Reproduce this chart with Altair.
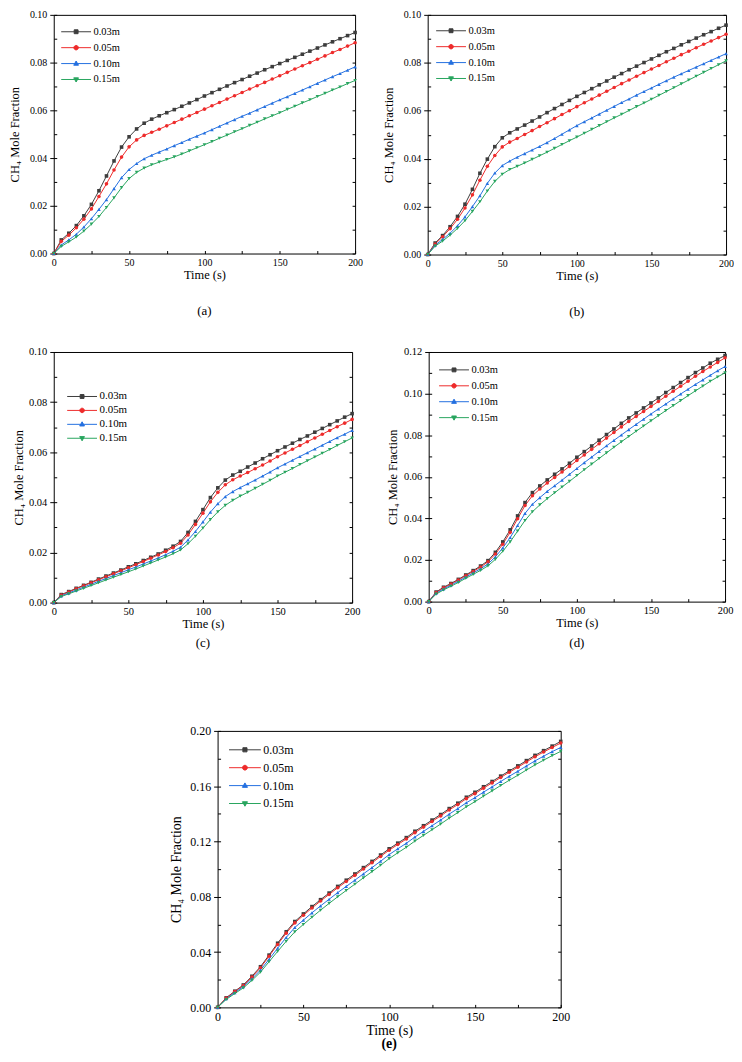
import altair as alt
import pandas as pd

FONT = "Liberation Serif"

TIME = [0, 5, 10, 15, 20, 25, 30, 35, 40, 45, 50, 55, 60, 65, 70, 75, 80, 85, 90, 95, 100,
        105, 110, 115, 120, 125, 130, 135, 140, 145, 150, 155, 160, 165, 170, 175, 180, 185, 190, 195, 200]
SERIES = ["0.03m", "0.05m", "0.10m", "0.15m"]
COLORS = ["#3d3d3d", "#ee2b2b", "#2470e0", "#28a55f"]
X_TICKS = [0, 25, 50, 75, 100, 125, 150, 175, 200]
Y_TICKS_10 = [0.0, 0.01, 0.02, 0.03, 0.04, 0.05, 0.06, 0.07, 0.08, 0.09, 0.10]
Y_TICKS_12 = [0.0, 0.01, 0.02, 0.03, 0.04, 0.05, 0.06, 0.07, 0.08, 0.09, 0.10, 0.11, 0.12]
Y_TICKS_20 = [0.0, 0.02, 0.04, 0.06, 0.08, 0.10, 0.12, 0.14, 0.16, 0.18, 0.20]

# legend symbols: short line with the marker in the middle
LEG_PATHS = [
    "M-1,0H1M-0.13,-0.13H0.13V0.13H-0.13Z",
    "M-1,0H1M0.15,0A0.15,0.15,0,1,1,-0.15,0A0.15,0.15,0,1,1,0.15,0Z",
    "M-1,0H1M0,-0.17L0.16,0.11L-0.16,0.11Z",
    "M-1,0H1M0,0.17L0.16,-0.11L-0.16,-0.11Z",
]

# ---------------- panel (a)
A_003 = [0, .0057, .0085, .0117, .0158, .0206, .0263, .0325, .0388, .0446, .0489,
         .0522, .0546, .0563, .0577, .0590, .0603, .0617, .0631, .0645, .0660,
         .0674, .0688, .0702, .0716, .0729, .0743, .0756, .0770, .0783, .0796,
         .0809, .0822, .0835, .0848, .0861, .0874, .0887, .0900, .0913, .0926]
A_005 = [0, .0051, .0077, .0108, .0144, .0187, .0239, .0292, .0350, .0404, .0447,
         .0476, .0495, .0508, .0521, .0535, .0549, .0563, .0577, .0591, .0605,
         .0619, .0633, .0647, .0661, .0675, .0689, .0703, .0717, .0731, .0745,
         .0759, .0773, .0787, .0800, .0814, .0828, .0842, .0855, .0869, .0883]
A_010 = [0, .0036, .0057, .0081, .0111, .0146, .0185, .0226, .0272, .0318, .0352,
         .0377, .0397, .0412, .0425, .0438, .0452, .0465, .0479, .0492, .0505,
         .0519, .0533, .0547, .0561, .0575, .0588, .0602, .0616, .0630, .0644,
         .0657, .0671, .0685, .0699, .0713, .0727, .0741, .0754, .0768, .0782]
A_015 = [0, .0030, .0049, .0069, .0094, .0123, .0155, .0193, .0233, .0276, .0314,
         .0340, .0358, .0372, .0383, .0394, .0405, .0417, .0430, .0443, .0456,
         .0469, .0483, .0496, .0510, .0523, .0537, .0550, .0564, .0577, .0590,
         .0604, .0617, .0631, .0644, .0658, .0671, .0685, .0698, .0712, .0725]

# ---------------- panel (b)
B_003 = [0, .0048, .0079, .0116, .0159, .0210, .0272, .0339, .0398, .0450, .0487,
         .0508, .0524, .0540, .0557, .0574, .0592, .0609, .0626, .0643, .0660,
         .0676, .0692, .0708, .0724, .0740, .0755, .0771, .0786, .0801, .0816,
         .0831, .0846, .0860, .0875, .0889, .0903, .0917, .0930, .0944, .0957]
B_005 = [0, .0044, .0074, .0108, .0147, .0194, .0249, .0310, .0368, .0413, .0449,
         .0469, .0484, .0501, .0517, .0534, .0550, .0567, .0584, .0600, .0617,
         .0633, .0649, .0665, .0681, .0697, .0713, .0728, .0744, .0759, .0774,
         .0789, .0804, .0819, .0834, .0848, .0863, .0877, .0891, .0905, .0919]
B_010 = [0, .0039, .0063, .0089, .0120, .0157, .0200, .0245, .0297, .0340, .0371,
         .0390, .0406, .0421, .0436, .0451, .0467, .0484, .0502, .0520, .0538,
         .0554, .0570, .0586, .0602, .0618, .0634, .0649, .0665, .0680, .0695,
         .0710, .0725, .0740, .0754, .0768, .0782, .0796, .0810, .0824, .0838]
B_015 = [0, .0035, .0056, .0081, .0109, .0141, .0180, .0220, .0265, .0305, .0335,
         .0355, .0368, .0382, .0397, .0412, .0427, .0443, .0459, .0475, .0490,
         .0506, .0522, .0538, .0554, .0570, .0585, .0601, .0617, .0632, .0648,
         .0664, .0680, .0696, .0712, .0728, .0744, .0760, .0776, .0792, .0808]

# ---------------- panel (c)
C_003 = [0, .0032, .0044, .0057, .0069, .0081, .0094, .0106, .0118, .0130, .0143,
         .0155, .0168, .0181, .0194, .0209, .0225, .0244, .0280, .0324, .0371,
         .0419, .0458, .0489, .0509, .0524, .0541, .0557, .0574, .0590, .0606,
         .0621, .0636, .0651, .0665, .0680, .0695, .0710, .0725, .0740, .0754]
C_005 = [0, .0030, .0042, .0055, .0067, .0079, .0091, .0103, .0115, .0127, .0139,
         .0151, .0164, .0177, .0190, .0204, .0219, .0237, .0270, .0312, .0357,
         .0402, .0440, .0470, .0490, .0505, .0519, .0534, .0549, .0565, .0582,
         .0597, .0612, .0627, .0642, .0657, .0672, .0687, .0702, .0716, .0731]
C_010 = [0, .0027, .0038, .0050, .0062, .0073, .0085, .0096, .0108, .0119, .0131,
         .0142, .0154, .0166, .0178, .0191, .0205, .0221, .0250, .0284, .0322,
         .0361, .0395, .0423, .0443, .0459, .0474, .0489, .0505, .0521, .0538,
         .0553, .0568, .0583, .0598, .0613, .0628, .0643, .0658, .0672, .0687]
C_015 = [0, .0024, .0035, .0046, .0057, .0068, .0079, .0090, .0101, .0112, .0123,
         .0134, .0146, .0158, .0170, .0182, .0195, .0210, .0235, .0265, .0297,
         .0331, .0362, .0388, .0408, .0425, .0440, .0456, .0472, .0488, .0505,
         .0520, .0535, .0551, .0566, .0581, .0596, .0611, .0627, .0642, .0657]

# ---------------- panel (d)
D_003 = [0, .0046, .0069, .0087, .0107, .0128, .0149, .0171, .0197, .0237, .0287,
         .0345, .0412, .0476, .0524, .0556, .0585, .0612, .0638, .0665, .0694,
         .0721, .0748, .0776, .0803, .0830, .0857, .0883, .0907, .0931, .0955,
         .0979, .1005, .1029, .1053, .1077, .1101, .1123, .1146, .1165, .1183]
D_005 = [0, .0044, .0066, .0084, .0104, .0124, .0145, .0166, .0191, .0229, .0276,
         .0333, .0398, .0462, .0509, .0541, .0570, .0597, .0623, .0650, .0678,
         .0705, .0732, .0759, .0786, .0813, .0840, .0866, .0890, .0914, .0938,
         .0962, .0987, .1011, .1035, .1059, .1083, .1106, .1128, .1150, .1172]
D_010 = [0, .0040, .0061, .0079, .0098, .0118, .0138, .0158, .0181, .0215, .0258,
         .0308, .0366, .0424, .0468, .0500, .0530, .0557, .0584, .0612, .0640,
         .0668, .0695, .0722, .0749, .0775, .0801, .0827, .0852, .0877, .0902,
         .0926, .0950, .0974, .0998, .1021, .1044, .1066, .1088, .1110, .1130]
D_015 = [0, .0036, .0056, .0074, .0092, .0112, .0131, .0150, .0172, .0203, .0242,
         .0287, .0339, .0390, .0432, .0465, .0495, .0523, .0551, .0578, .0606,
         .0634, .0661, .0688, .0715, .0742, .0768, .0794, .0819, .0844, .0869,
         .0894, .0918, .0942, .0966, .0990, .1013, .1036, .1059, .1080, .1100]

# ---------------- panel (e)
E_003 = [0, .0069, .0117, .0162, .0225, .0294, .0378, .0464, .0547, .0621, .0676,
         .0729, .0779, .0827, .0875, .0920, .0965, .1011, .1056, .1102, .1147,
         .1188, .1228, .1274, .1314, .1355, .1395, .1438, .1477, .1520, .1556,
         .1596, .1634, .1673, .1711, .1747, .1785, .1823, .1857, .1890, .1924]
E_005 = [0, .0067, .0114, .0158, .0219, .0287, .0370, .0455, .0537, .0611, .0666,
         .0719, .0769, .0817, .0865, .0910, .0955, .1001, .1046, .1092, .1137,
         .1178, .1218, .1264, .1304, .1345, .1385, .1428, .1467, .1510, .1546,
         .1586, .1624, .1663, .1701, .1737, .1775, .1813, .1847, .1880, .1912]
E_010 = [0, .0062, .0107, .0150, .0207, .0270, .0348, .0428, .0506, .0578, .0631,
         .0684, .0734, .0782, .0830, .0875, .0920, .0966, .1011, .1057, .1105,
         .1147, .1187, .1232, .1273, .1314, .1355, .1398, .1438, .1480, .1517,
         .1557, .1595, .1634, .1672, .1708, .1746, .1783, .1817, .1850, .1880]
E_015 = [0, .0057, .0100, .0141, .0195, .0255, .0330, .0405, .0478, .0546, .0600,
         .0652, .0703, .0752, .0800, .0846, .0891, .0937, .0982, .1028, .1076,
         .1118, .1158, .1203, .1244, .1285, .1326, .1369, .1409, .1451, .1488,
         .1528, .1566, .1605, .1643, .1679, .1717, .1754, .1788, .1821, .1852]


def make_panel(vals, ymax, yticks, major_mod, w, h, tick_fs, title_fs, ytp,
               leg_fs, leg_x, leg_y, leg_row, leg_size, caption, cap_offset,
               cap_bold, cap_fs):
    rows = []
    for s, arr in zip(SERIES, vals):
        for t, v in zip(TIME, arr):
            rows.append({"t": t, "v": v, "series": s})
    df = pd.DataFrame(rows)
    base = alt.Chart(df)

    xs = alt.Scale(domain=[0, 200], nice=False, zero=False)
    ys = alt.Scale(domain=[0, ymax], nice=False, zero=False)
    cs = alt.Scale(domain=SERIES, range=COLORS)
    cond = f"round(datum.value*100) % {major_mod} == 0"

    x_axis = alt.Axis(
        orient="bottom", values=X_TICKS,
        labelExpr="datum.value % 50 == 0 ? datum.label : ''",
        tickSize=3, offset=-3, domain=False, grid=False, labelFlush=False,
        labelOverlap=False, labelPadding=4, labelFont=FONT, labelFontSize=tick_fs,
        labelColor="black", tickColor="black", tickWidth=1,
        title="Time (s)", titleFont=FONT, titleFontSize=title_fs,
        titleFontWeight="normal", titleColor="black", titlePadding=1,
    )
    y_axis = alt.Axis(
        orient="left", values=yticks,
        labelExpr=f"{cond} ? format(datum.value, '.2f') : ''",
        tickSize={"condition": {"test": cond, "value": 7}, "value": 3},
        offset=-3, domain=False, grid=False, labelOverlap=False, labelPadding=3,
        labelFont=FONT, labelFontSize=tick_fs, labelColor="black",
        tickColor="black", tickWidth=1,
        title="CH\u2084 Mole Fraction", titleFont=FONT, titleFontSize=title_fs,
        titleFontWeight="normal", titleColor="black", titlePadding=ytp,
    )
    y_axis_r = alt.Axis(
        orient="right", values=yticks, labels=False, tickSize=3, offset=-3,
        domain=False, grid=False, tickColor="black", tickWidth=1, title=None,
    )
    leg = alt.Legend(
        title=None, orient="none", legendX=leg_x, legendY=leg_y, padding=0,
        rowPadding=0, clipHeight=leg_row, symbolSize=leg_size,
        symbolStrokeWidth=1, symbolOpacity=1, labelFont=FONT,
        labelFontSize=leg_fs, labelColor="black", labelOffset=2,
    )
    X = alt.X("t:Q", scale=xs, axis=x_axis)
    C = alt.Color("series:N", scale=cs, legend=leg)

    lines = base.mark_line(strokeWidth=1).encode(
        x=X, y=alt.Y("v:Q", scale=ys, axis=y_axis), color=C,
    )
    shape_def = alt.ShapeValue(
        value="triangle-down",
        condition=[
            {"test": "datum.series === '0.03m'", "value": "square"},
            {"test": "datum.series === '0.05m'", "value": "circle"},
            {"test": "datum.series === '0.10m'", "value": "triangle-up"},
        ],
    )
    points = base.mark_point(filled=True, size=13, opacity=1).encode(
        x=X, y=alt.Y("v:Q", scale=ys, axis=y_axis_r), color=C, shape=shape_def,
    )
    legend_layer = base.mark_point(filled=True, opacity=0).encode(
        x=X,
        y=alt.Y("v:Q", scale=ys, axis=None),
        color=C,
        stroke=alt.Stroke("series:N", scale=alt.Scale(domain=SERIES, range=COLORS), legend=leg),
        shape=alt.Shape("series:N", scale=alt.Scale(domain=SERIES, range=LEG_PATHS), legend=leg),
    )
    return alt.layer(lines, points, legend_layer).resolve_axis(y="independent").properties(
        width=w, height=h,
        title=alt.TitleParams(
            text=caption, orient="bottom", anchor="middle", frame="group",
            font=FONT, fontSize=cap_fs, fontWeight="bold" if cap_bold else "normal",
            color="black", offset=cap_offset,
        ),
    )


def indep(ch):
    return ch.resolve_scale(color="independent", stroke="independent", shape="independent") \
             .resolve_legend(color="independent", stroke="independent", shape="independent")


pa = make_panel([A_003, A_005, A_010, A_015], 0.10, Y_TICKS_10, 2, 303, 240, 10, 12.5, 8,
                10.5, 7, 9, 16, 900, "(a)", 24, False, 13)
pb = make_panel([B_003, B_005, B_010, B_015], 0.10, Y_TICKS_10, 2, 300, 241, 10, 12.5, 8,
                10.5, 8, 8, 16, 900, "(b)", 24, False, 13)
pc = make_panel([C_003, C_005, C_010, C_015], 0.10, Y_TICKS_10, 2, 300, 252, 10.5, 12.5, 3,
                11, 13, 38, 13.5, 900, "(c)", 7, False, 13)
pd_ = make_panel([D_003, D_005, D_010, D_015], 0.12, Y_TICKS_12, 2, 298, 251, 10.5, 12.5, 4,
                 10.5, 10, 10, 16, 900, "(d)", 8, False, 13)
pe = make_panel([E_003, E_005, E_010, E_015], 0.20, Y_TICKS_20, 4, 345, 278, 12, 14, 6,
                12, 11, 10, 18, 1024, "(e)", 0, True, 14)

row1 = indep(alt.hconcat(pa, pb, spacing=19))
row2 = indep(alt.hconcat(pc, pd_, spacing=25))
top = indep(alt.vconcat(row1, row2, spacing=27))
chart = indep(alt.vconcat(top, pe, spacing=73, center=True)).properties(
    padding={"left": 0, "top": -2, "right": 0, "bottom": 0}
).configure_view(stroke="black", strokeWidth=1)

chart.save("out.html", embed_options={"renderer": "svg", "actions": False})
